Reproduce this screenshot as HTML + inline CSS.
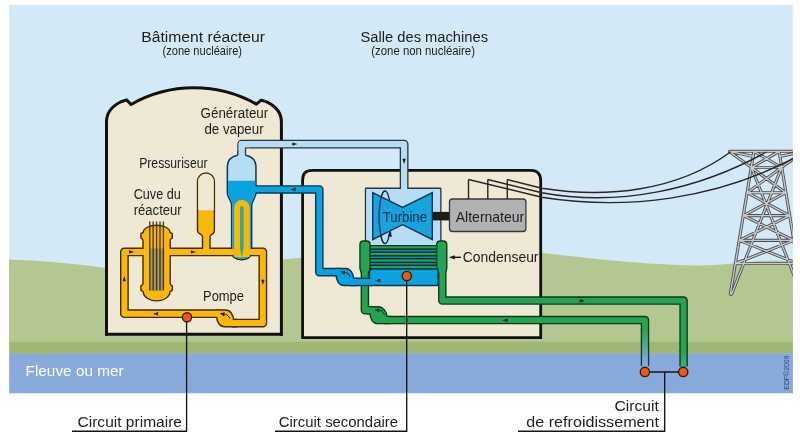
<!DOCTYPE html>
<html lang="fr">
<head>
<meta charset="utf-8">
<title>Centrale nucléaire - schéma de principe</title>
<style>
html,body{margin:0;padding:0;background:#fff;}
body{width:800px;height:444px;overflow:hidden;font-family:"Liberation Sans",sans-serif;}
svg{display:block;will-change:transform;}
text{font-family:"Liberation Sans",sans-serif;fill:#1d1d1b;}
.dot{fill:#ee5716;stroke:#3e1506;stroke-width:1.4;}
.ln{stroke:#141414;stroke-width:1.35;fill:none;}
.wire{stroke:#262626;stroke-width:1.4;fill:none;}
</style>
</head>
<body>
<svg width="800" height="444" viewBox="0 0 800 444">
<defs>
<clipPath id="frame"><rect x="9.1" y="4.8" width="783.8" height="388.4"/></clipPath>
<linearGradient id="fadeL" x1="0" y1="328" x2="0" y2="364" gradientUnits="userSpaceOnUse">
<stop offset="0" stop-color="#25a352"/><stop offset="1" stop-color="#7fb0d8"/>
</linearGradient>
<linearGradient id="fadeLo" x1="0" y1="335" x2="0" y2="364" gradientUnits="userSpaceOnUse">
<stop offset="0" stop-color="#0b3a1c"/><stop offset="1" stop-color="#1a3156"/>
</linearGradient>
<linearGradient id="fadeR" x1="0" y1="352" x2="0" y2="368" gradientUnits="userSpaceOnUse">
<stop offset="0" stop-color="#25a352"/><stop offset="1" stop-color="#45ab8e"/>
</linearGradient>
</defs>
<rect width="800" height="444" fill="#fff"/>

<g clip-path="url(#frame)">
<rect x="0" y="0" width="800" height="300" fill="#d4e9f8"/>
<path d="M0,259 L9.5,259.5 Q60,261.5 104,267.8 L140,272 L200,268 L283,259.5 L301,257.7 Q420,246 542,253 C592,258.5 650,265.4 700,265.4 C728,265.4 752,260.6 775,260.4 L800,261.6 L800,345 L0,345 Z" fill="#b4c790"/>
<rect x="0" y="341.8" width="800" height="12" fill="#9eb873"/>
<rect x="0" y="353.4" width="800" height="45" fill="#88aadb"/>
</g>
<g clip-path="url(#frame)">
<path d="M753.9,151.3 L730.3,294.2 M779.1,151.3 L802.7,294.2 M729.6,151.3 L803.4,151.3 M729.6,151.8 L751.5,167.5 M803.4,151.8 L781.5,167.5 M731.6,151.8 L753.2,156.5 M801.4,151.8 L779.8,156.5 M751.5,167.5 L781.5,167.5 M747.3,192.7 L785.7,192.7 M743.5,215.6 L789.5,215.6 M739.3,240.4 L793.7,240.4 M735.4,263.5 L797.6,263.5 M753.9,151.3 L781.5,167.5 M779.1,151.3 L751.5,167.5 M751.5,167.5 L785.7,192.7 M781.5,167.5 L747.3,192.7 M747.3,192.7 L789.5,215.6 M785.7,192.7 L743.5,215.6 M743.5,215.6 L793.7,240.4 M789.5,215.6 L739.3,240.4 M739.3,240.4 L797.6,263.5 M793.7,240.4 L735.4,263.5 M781.5,167.5 L731.6,294.2 M751.5,167.5 L801.4,294.2" stroke="#4d4d50" stroke-width="3.1" fill="none" stroke-linecap="round"/>
<path d="M753.9,151.3 L730.3,294.2 M779.1,151.3 L802.7,294.2 M729.6,151.3 L803.4,151.3 M729.6,151.8 L751.5,167.5 M803.4,151.8 L781.5,167.5 M731.6,151.8 L753.2,156.5 M801.4,151.8 L779.8,156.5 M751.5,167.5 L781.5,167.5 M747.3,192.7 L785.7,192.7 M743.5,215.6 L789.5,215.6 M739.3,240.4 L793.7,240.4 M735.4,263.5 L797.6,263.5 M753.9,151.3 L781.5,167.5 M779.1,151.3 L751.5,167.5 M751.5,167.5 L785.7,192.7 M781.5,167.5 L747.3,192.7 M747.3,192.7 L789.5,215.6 M785.7,192.7 L743.5,215.6 M743.5,215.6 L793.7,240.4 M789.5,215.6 L739.3,240.4 M739.3,240.4 L797.6,263.5 M793.7,240.4 L735.4,263.5 M781.5,167.5 L731.6,294.2 M751.5,167.5 L801.4,294.2" stroke="#c8c9cc" stroke-width="1.35" fill="none" stroke-linecap="round"/>
</g>
<path d="M106.5,334.3 L106.5,122 C106.5,112.5 112.5,106 120.5,102 L126.6,99.9 L131,104.5 A127.5,127.5 0 0 1 256.4,104.1 L261.2,100.1 L267.3,102.2 C275.3,106.2 281.4,112.5 281.4,122 L281.4,334.3 Z" fill="#efe8d4" stroke="#111" stroke-width="3" stroke-linejoin="round"/>
<rect x="105" y="332.8" width="3" height="3" fill="#111"/><rect x="279.9" y="332.8" width="3" height="3" fill="#111"/>
<path d="M302.6,337.6 L302.6,180 Q302.6,170.4 312,170.4 L531,170.4 Q540.7,170.4 540.7,181 L540.7,337.6 Z" fill="#efe8d4" stroke="#111" stroke-width="2.8"/>
<g clip-path="url(#frame)"><path class="wire" d="M468.5,179.5 L541.8,197.2 C627.0,210.9 716.1,198.7 793.0,158.7 M487.8,179.5 L541.8,192.7 C619.1,207.0 698.4,189.8 766.5,152.0 M507.3,179.5 L541.8,188.3 C606.2,198.5 677.0,191.6 730.8,151.8"/></g>
<path d="M241.7,158 L241.7,144.1 L404.1,144.1 L404.1,190" fill="none" stroke="#26353e" stroke-width="8.80" stroke-linejoin="round" stroke-linecap="butt"/>
<path d="M366.1,188.9 L440.2,188.9 L440.2,246 L366.1,246 Z" fill="#26353e" stroke="#26353e" stroke-width="2.60" stroke-linejoin="round"/>
<path d="M241.7,158 L241.7,144.1 L404.1,144.1 L404.1,190" fill="none" stroke="#b7dcf4" stroke-width="6.20" stroke-linejoin="round" stroke-linecap="butt"/>
<path d="M366.1,188.9 L440.2,188.9 L440.2,246 L366.1,246 Z" fill="#b7dcf4"/>
<ellipse cx="385" cy="217.2" rx="5.8" ry="26.4" fill="none" stroke="#0b2a3c" stroke-width="1.3"/>
<polygon points="372.7,192.6 402.5,207.5 432.3,192.6 432.3,239.5 402.5,224.7 372.7,239.5" fill="#17a3dd" stroke="#0b3954" stroke-width="1.4" stroke-linejoin="miter"/>
<path d="M385,243.6 A5.8,26.4 0 0 1 385,190.8" fill="none" stroke="#0b2a3c" stroke-width="1.3"/>
<polygon points="390.7,229.6 387.7,236.3 391.8,237.0" fill="#0b2a3c"/>
<rect x="432.6" y="211.9" width="18" height="8.5" fill="#1d1d1b"/>
<rect x="449.5" y="199" width="76.4" height="32.5" rx="3" fill="#b2b2b4" stroke="#38383a" stroke-width="1.3"/>
<path d="M468.5,199 L468.5,179.5 M487.8,199 L487.8,179.5 M507.3,199 L507.3,179.5" class="wire" stroke-width="1.9"/>
<path d="M442.3,268 L442.3,300.6 L683.6,300.6 L683.6,352" fill="none" stroke="#0b3a1c" stroke-width="8.50" stroke-linejoin="round" stroke-linecap="butt"/>
<path d="M364.9,268 L364.9,310.3 L372,310.3" fill="none" stroke="#0b3a1c" stroke-width="8.50" stroke-linejoin="round" stroke-linecap="butt"/>
<path d="M384,320.1 L645,320.1 L645,330" fill="none" stroke="#0b3a1c" stroke-width="8.50" stroke-linejoin="round" stroke-linecap="butt"/>
<path d="M360.6,244.6 Q360.6,241.7 363.5,241.7 L366.5,241.7 Q369.4,241.7 369.4,244.6 L369.4,268 Q369.4,270 368,272 L361.9,272 Q360.6,270 360.6,268 Z" fill="#0b3a1c" stroke="#0b3a1c" stroke-width="2.70" stroke-linejoin="round"/>
<path d="M437.4,244.6 Q437.4,241.7 440.3,241.7 L443.2,241.7 Q446.1,241.7 446.1,244.6 L446.1,268 Q446.1,270 445,272 L439.6,272 Q437.4,270 437.4,268 Z" fill="#0b3a1c" stroke="#0b3a1c" stroke-width="2.70" stroke-linejoin="round"/>
<path d="M368,307.40000000000003 L378,307.40000000000003 A8.30,9.80 0 0 1 386.3,317.20000000000005 L390.3,317.20000000000005 L390.3,323.0 L377.5,323.0 A6.90,9.80 0 0 1 370.6,313.2 L368,313.2 Z" fill="#0b3a1c" stroke="#0b3a1c" stroke-width="2.70" stroke-linejoin="round"/>
<path d="M442.3,268 L442.3,300.6 L683.6,300.6 L683.6,352" fill="none" stroke="#25a352" stroke-width="5.80" stroke-linejoin="round" stroke-linecap="butt"/>
<path d="M364.9,268 L364.9,310.3 L372,310.3" fill="none" stroke="#25a352" stroke-width="5.80" stroke-linejoin="round" stroke-linecap="butt"/>
<path d="M384,320.1 L645,320.1 L645,330" fill="none" stroke="#25a352" stroke-width="5.80" stroke-linejoin="round" stroke-linecap="butt"/>
<path d="M360.6,244.6 Q360.6,241.7 363.5,241.7 L366.5,241.7 Q369.4,241.7 369.4,244.6 L369.4,268 Q369.4,270 368,272 L361.9,272 Q360.6,270 360.6,268 Z" fill="#25a352"/>
<path d="M437.4,244.6 Q437.4,241.7 440.3,241.7 L443.2,241.7 Q446.1,241.7 446.1,244.6 L446.1,268 Q446.1,270 445,272 L439.6,272 Q437.4,270 437.4,268 Z" fill="#25a352"/>
<path d="M368,307.40000000000003 L378,307.40000000000003 A8.30,9.80 0 0 1 386.3,317.20000000000005 L390.3,317.20000000000005 L390.3,323.0 L377.5,323.0 A6.90,9.80 0 0 1 370.6,313.2 L368,313.2 Z" fill="#25a352"/>
<rect x="640.75" y="329" width="8.5" height="37" fill="url(#fadeLo)"/><rect x="642.1" y="329" width="5.8" height="37" fill="url(#fadeL)"/>
<rect x="679.35" y="351" width="8.5" height="15.5" fill="#0b3a1c"/><rect x="680.7" y="351" width="5.8" height="15.5" fill="url(#fadeR)"/>
<rect x="370" y="245.0" width="67" height="24.8" fill="#0c2f2a"/>
<rect x="370.6" y="246.25" width="66" height="2.20" fill="#25a352"/>
<rect x="370.6" y="249.90" width="66" height="1.50" fill="#1d84b4"/>
<rect x="370.6" y="252.85" width="66" height="2.20" fill="#25a352"/>
<rect x="370.6" y="256.50" width="66" height="1.50" fill="#1d84b4"/>
<rect x="370.6" y="259.45" width="66" height="2.20" fill="#25a352"/>
<rect x="370.6" y="263.10" width="66" height="1.50" fill="#1d84b4"/>
<rect x="370.6" y="266.05" width="66" height="2.20" fill="#25a352"/>
<path d="M160,251.95 L124.4,251.95 L124.4,313.65 L219,313.65" fill="none" stroke="#3f2c08" stroke-width="8.80" stroke-linejoin="round"/>
<path d="M150,251.95 L262.85,251.95 L262.85,323.1 L232,323.1" fill="none" stroke="#3f2c08" stroke-width="8.80" stroke-linejoin="round"/>
<path d="M143.7,250 L143.7,240.2 Q143.7,238.8 141.6,237.6 L141.6,233.8 Q143.1,233.6 144.0,232.4 A12.6,6.4 0 0 1 169.2,232.4 Q170.1,233.6 171.6,233.8 L171.6,237.6 Q169.5,238.8 169.5,240.2 L169.5,283.2 Q169.5,285 171.6,286.3 L171.6,290.0 Q170.3,290.4 169.3,291.6 A12.700000000000001,8.6 0 0 1 143.89999999999998,291.6 Q142.89999999999998,290.4 141.6,290.0 L141.6,286.3 Q143.7,285 143.7,283.2 Z" fill="#3f2c08" stroke="#3f2c08" stroke-width="2.80" stroke-linejoin="round"/>
<path d="M198.2,181.4 A7.75,7.75 0 0 1 213.7,181.4 L213.7,230.5 Q213.7,232.3 212.3,233.2 L210.5,234.4 Q209.3,235.2 209.3,236.8 L209.3,250 L203.2,250 L203.2,236.8 Q203.2,235.2 202,234.4 L200.2,233.2 Q198.2,232.3 198.2,230.5 Z" fill="#3f2c08" stroke="#3f2c08" stroke-width="2.80" stroke-linejoin="round"/>
<path d="M217,310.65 L225.8,310.65 A7.00,9.45 0 0 1 232.8,320.1 L236.8,320.1 L236.8,326.1 L224.5,326.1 A7.10,9.45 0 0 1 217.4,316.65 L217,316.65 Z" fill="#3f2c08" stroke="#3f2c08" stroke-width="2.80" stroke-linejoin="round"/>
<path d="M238.9,152 L238.9,154.6 Q238.6,155.9 237,156.3 Q228.6,158.2 228.1,166 L228.1,192.5 Q228.1,194.5 229.2,196.8 L232,202.5 Q232.4,204.5 232.4,206.8 L232.4,252 Q233.2,258.9 241.65,258.9 Q250.1,258.9 250.9,252 L250.9,206.8 Q250.9,204.5 251.6,202.5 L254.1,196.8 Q255.2,194.5 255.2,192.5 L255.2,166 Q254.7,158.2 246.3,156.3 Q244.7,155.9 244.5,154.6 L244.5,152 Z" fill="#0b3954" stroke="#0b3954" stroke-width="3.00" stroke-linejoin="round"/>
<path d="M254,189.45 L319.3,189.45 L319.3,272.1 L340,272.1" fill="none" stroke="#0b3954" stroke-width="8.65" stroke-linejoin="round"/>
<path d="M350,281.95 L372,281.95" fill="none" stroke="#0b3954" stroke-width="8.65" stroke-linejoin="round"/>
<path d="M370.2,272.2 Q370.2,269.7 372.7,269.7 L437.2,269.7 L437.2,284.83 L370.2,284.83 Z" fill="#0b3954" stroke="#0b3954" stroke-width="2.90" stroke-linejoin="round"/>
<path d="M336,269.22 L345.5,269.22 A7.40,9.85 0 0 1 352.9,279.07 L356.9,279.07 L356.9,284.83 L343.8,284.83 A6.90,9.85 0 0 1 336.9,274.98 L336,274.98 Z" fill="#0b3954" stroke="#0b3954" stroke-width="2.90" stroke-linejoin="round"/>
<path d="M238.9,152 L238.9,154.6 Q238.6,155.9 237,156.3 Q228.6,158.2 228.1,166 L228.1,192.5 Q228.1,194.5 229.2,196.8 L232,202.5 Q232.4,204.5 232.4,206.8 L232.4,252 Q233.2,258.9 241.65,258.9 Q250.1,258.9 250.9,252 L250.9,206.8 Q250.9,204.5 251.6,202.5 L254.1,196.8 Q255.2,194.5 255.2,192.5 L255.2,166 Q254.7,158.2 246.3,156.3 Q244.7,155.9 244.5,154.6 L244.5,152 Z" fill="#b7dcf4"/>
<clipPath id="sgw"><rect x="220" y="180.7" width="45" height="90"/></clipPath>
<path d="M238.9,152 L238.9,154.6 Q238.6,155.9 237,156.3 Q228.6,158.2 228.1,166 L228.1,192.5 Q228.1,194.5 229.2,196.8 L232,202.5 Q232.4,204.5 232.4,206.8 L232.4,252 Q233.2,258.9 241.65,258.9 Q250.1,258.9 250.9,252 L250.9,206.8 Q250.9,204.5 251.6,202.5 L254.1,196.8 Q255.2,194.5 255.2,192.5 L255.2,166 Q254.7,158.2 246.3,156.3 Q244.7,155.9 244.5,154.6 L244.5,152 Z" fill="#0ba2de" clip-path="url(#sgw)"/>
<path d="M241.7,160 L241.7,144.1 L250,144.1" fill="none" stroke="#b7dcf4" stroke-width="6.20" stroke-linejoin="round"/>
<path d="M254,189.45 L319.3,189.45 L319.3,272.1 L340,272.1" fill="none" stroke="#0ba2de" stroke-width="5.75" stroke-linejoin="round"/>
<path d="M350,281.95 L372,281.95" fill="none" stroke="#0ba2de" stroke-width="5.75" stroke-linejoin="round"/>
<path d="M370.2,272.2 Q370.2,269.7 372.7,269.7 L437.2,269.7 L437.2,284.83 L370.2,284.83 Z" fill="#0ba2de"/>
<path d="M336,269.22 L345.5,269.22 A7.40,9.85 0 0 1 352.9,279.07 L356.9,279.07 L356.9,284.83 L343.8,284.83 A6.90,9.85 0 0 1 336.9,274.98 L336,274.98 Z" fill="#0ba2de"/>
<path d="M160,251.95 L124.4,251.95 L124.4,313.65 L219,313.65" fill="none" stroke="#fcb808" stroke-width="6.00" stroke-linejoin="round"/>
<path d="M150,251.95 L262.85,251.95 L262.85,323.1 L232,323.1" fill="none" stroke="#fcb808" stroke-width="6.00" stroke-linejoin="round"/>
<path d="M143.7,250 L143.7,240.2 Q143.7,238.8 141.6,237.6 L141.6,233.8 Q143.1,233.6 144.0,232.4 A12.6,6.4 0 0 1 169.2,232.4 Q170.1,233.6 171.6,233.8 L171.6,237.6 Q169.5,238.8 169.5,240.2 L169.5,283.2 Q169.5,285 171.6,286.3 L171.6,290.0 Q170.3,290.4 169.3,291.6 A12.700000000000001,8.6 0 0 1 143.89999999999998,291.6 Q142.89999999999998,290.4 141.6,290.0 L141.6,286.3 Q143.7,285 143.7,283.2 Z" fill="#fcb808"/>
<path d="M198.2,181.4 A7.75,7.75 0 0 1 213.7,181.4 L213.7,230.5 Q213.7,232.3 212.3,233.2 L210.5,234.4 Q209.3,235.2 209.3,236.8 L209.3,250 L203.2,250 L203.2,236.8 Q203.2,235.2 202,234.4 L200.2,233.2 Q198.2,232.3 198.2,230.5 Z" fill="#fcb808"/>
<path d="M217,310.65 L225.8,310.65 A7.00,9.45 0 0 1 232.8,320.1 L236.8,320.1 L236.8,326.1 L224.5,326.1 A7.10,9.45 0 0 1 217.4,316.65 L217,316.65 Z" fill="#fcb808"/>
<path d="M198.2,181.4 A7.75,7.75 0 0 1 213.7,181.4 L213.7,210.2 L198.2,210.2 Z" fill="#efe8d4"/>
<path d="M237.2,257 L237.2,207.8 A4.7,4.7 0 0 1 246.6,207.8 L246.6,257" fill="none" stroke="#fcb808" stroke-width="6.2"/>
<path d="M234.8,254 Q236,257.6 241.6,257.6 Q247.5,257.6 248.6,254 Z" fill="#fcb808"/>
<path d="M240.3,250 L240.3,208 Q240.3,206.5 241.7,206.5 Q243.1,206.5 243.1,208 L243.1,250 L241.9,256.8 L241.5,256.8 Z" fill="#30a89c"/>
<rect x="149.1" y="248.6" width="15.1" height="42" fill="#a89468"/>
<path d="M149.8,221.6 L149.8,290.6 M153.15,221.6 L153.15,290.6 M156.6,221.6 L156.6,290.6 M160.0,221.6 L160.0,290.6 M163.4,221.6 L163.4,290.6" stroke="#4a380d" stroke-width="1.35" fill="none"/>
<polygon points="134.20,251.90 129.00,250.20 129.00,253.60" fill="#1d1d1b"/>
<polygon points="196.00,251.90 190.80,250.20 190.80,253.60" fill="#1d1d1b"/>
<polygon points="124.25,276.10 122.55,281.30 125.95,281.30" fill="#1d1d1b"/>
<polygon points="152.90,313.70 158.10,312.00 158.10,315.40" fill="#1d1d1b"/>
<polygon points="262.85,285.00 261.15,279.80 264.55,279.80" fill="#1d1d1b"/>
<polygon points="297.50,144.10 292.30,142.40 292.30,145.80" fill="#1d1d1b"/>
<polygon points="404.10,164.00 402.40,158.80 405.80,158.80" fill="#1d1d1b"/>
<polygon points="290.50,189.50 295.70,187.80 295.70,191.20" fill="#1d1d1b"/>
<polygon points="375.10,280.60 380.30,278.90 380.30,282.30" fill="#1d1d1b"/>
<polygon points="584.90,300.70 579.70,299.00 579.70,302.40" fill="#1d1d1b"/>
<polygon points="502.40,320.30 507.60,318.60 507.60,322.00" fill="#1d1d1b"/>
<path d="M222.10000000000002,314.2 Q227.8,313.2 229.70000000000002,318.59999999999997" stroke="#1d1d1b" stroke-width="1" fill="none"/><polygon points="219.70000000000002,313.5 224.70000000000002,312.2 224.10000000000002,316.4" fill="#1d1d1b"/>
<path d="M342.6,272.5 Q348.3,271.5 350.2,276.9" stroke="#0b2540" stroke-width="1" fill="none"/><polygon points="340.2,271.8 345.2,270.5 344.6,274.7" fill="#0b2540"/>
<path d="M376.8,310.40000000000003 Q382.5,309.40000000000003 384.4,314.8" stroke="#0b2a18" stroke-width="1" fill="none"/><polygon points="374.4,309.70000000000005 379.4,308.40000000000003 378.8,312.6" fill="#0b2a18"/>
<path class="ln" d="M186.6,317 L186.6,431.25 L72,431.25 M406.7,275.6 L406.7,431.25 L275,431.25 M645,372 L683,372 M664.7,372 L664.7,431.25 L518,431.25"/>
<circle class="dot" cx="187.0" cy="317.3" r="4.6"/>
<circle class="dot" cx="406.8" cy="276.0" r="4.6"/>
<circle class="dot" cx="644.9" cy="371.9" r="4.6"/>
<circle class="dot" cx="683.2" cy="371.9" r="4.6"/>
<path class="ln" d="M453,257.3 L461,257.3" stroke-width="1.3"/><polygon points="448.80,257.30 454.80,255.20 454.80,259.40" fill="#1d1d1b"/>
<text x="141.3" y="42" font-size="15.4" textLength="123.7" lengthAdjust="spacingAndGlyphs">Bâtiment réacteur</text>
<text x="162.5" y="54.7" font-size="12.2" textLength="79.5" lengthAdjust="spacingAndGlyphs">(zone nucléaire)</text>
<text x="360.5" y="42" font-size="15.4" textLength="127.5" lengthAdjust="spacingAndGlyphs">Salle des machines</text>
<text x="371.3" y="54.7" font-size="12.2" textLength="103.7" lengthAdjust="spacingAndGlyphs">(zone non nucléaire)</text>
<text x="200.6" y="118.2" font-size="13.8" textLength="67.6" lengthAdjust="spacingAndGlyphs">Générateur</text>
<text x="204.4" y="134" font-size="13.8" textLength="59.2" lengthAdjust="spacingAndGlyphs">de vapeur</text>
<text x="139.2" y="168" font-size="13.8" textLength="68.4" lengthAdjust="spacingAndGlyphs">Pressuriseur</text>
<text x="133.7" y="199.3" font-size="13.8" textLength="47.1" lengthAdjust="spacingAndGlyphs">Cuve du</text>
<text x="133.7" y="215.2" font-size="13.8" textLength="48" lengthAdjust="spacingAndGlyphs">réacteur</text>
<text x="203" y="300.5" font-size="13.8" textLength="41" lengthAdjust="spacingAndGlyphs">Pompe</text>
<text x="382.8" y="222.0" font-size="13.8" textLength="44.2" lengthAdjust="spacingAndGlyphs" style="fill:#0c2c44">Turbine</text>
<text x="455.8" y="222" font-size="14.1" textLength="68.4" lengthAdjust="spacingAndGlyphs">Alternateur</text>
<text x="462.8" y="261.9" font-size="14" textLength="75.7" lengthAdjust="spacingAndGlyphs">Condenseur</text>
<text x="25.5" y="375.8" font-size="14.8" textLength="98.2" lengthAdjust="spacingAndGlyphs" style="fill:#ffffff">Fleuve ou mer</text>
<text x="77.5" y="427" font-size="15.2" textLength="104.5" lengthAdjust="spacingAndGlyphs">Circuit primaire</text>
<text x="278.8" y="427" font-size="15.2" textLength="119.2" lengthAdjust="spacingAndGlyphs">Circuit secondaire</text>
<text x="614.5" y="411.3" font-size="15.2" textLength="44.3" lengthAdjust="spacingAndGlyphs">Circuit</text>
<text x="526.3" y="427" font-size="15.2" textLength="132.7" lengthAdjust="spacingAndGlyphs">de refroidissement</text>
<text transform="translate(788.7,389.7) rotate(-90)" font-size="7.2" style="fill:#36457a" textLength="34.2" lengthAdjust="spacingAndGlyphs">EDF©2009</text>
</svg>
</body>
</html>
